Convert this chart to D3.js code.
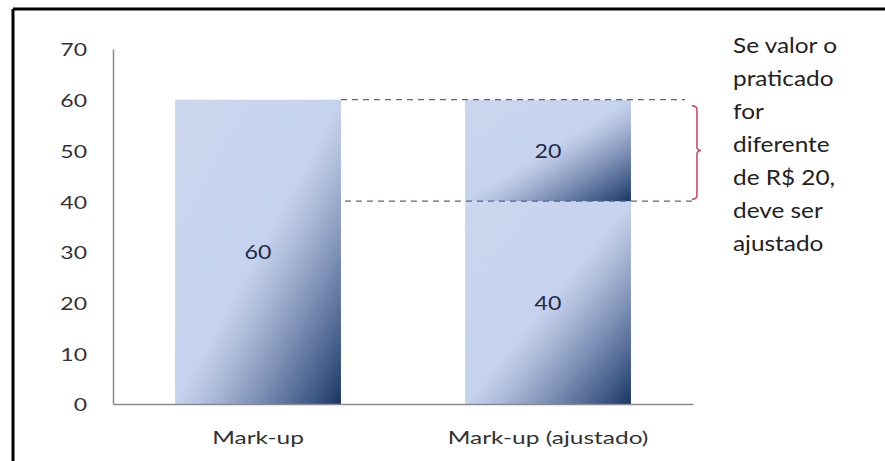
<!DOCTYPE html>
<html>
<head>
<meta charset="utf-8">
<script src="https://cdn.jsdelivr.net/npm/d3@7"></script>
<style>
  html, body { margin: 0; padding: 0; background: #fff; }
  svg { display: block; }
  text { font-family: Lato, "Open Sans", sans-serif; }
</style>
</head>
<body>
<svg id="chart" width="885" height="461"></svg>
<script>
// ---- data ----
const categories = ["Mark-up", "Mark-up (ajustado)"];
const baseValues = [60, 40];
const topValues = [0, 20];
const yTicks = [0, 10, 20, 30, 40, 50, 60, 70];
const noteLines = ["Se valor o", "praticado", "for", "diferente", "de R$ 20,", "deve ser", "ajustado"];

const W = 885, H = 461;
const svg = d3.select("#chart");

// frame (only top and left edges visible)
svg.append("line").attr("x1", 13).attr("y1", 9).attr("x2", W).attr("y2", 9)
  .attr("stroke", "#000").attr("stroke-width", 3);
svg.append("line").attr("x1", 13).attr("y1", 9).attr("x2", 13).attr("y2", H)
  .attr("stroke", "#000").attr("stroke-width", 3);

const x = d3.scaleBand().domain(categories).range([113, 693]).paddingInner(0.428).paddingOuter(0.214);
const y = d3.scaleLinear().domain([0, 70]).range([404, 49]);

// gradient
const defs = svg.append("defs");
const grad = defs.append("linearGradient").attr("id", "barGrad")
  .attr("x1", 0).attr("y1", 0).attr("x2", 1).attr("y2", 1);
[[0, "#ccd7ef"], [0.5, "#c6d3ee"], [0.6, "#acbbd9"], [0.75, "#7a8db3"], [0.9, "#425c88"], [1, "#1c3560"]]
  .forEach(([o, c]) => grad.append("stop").attr("offset", o).attr("stop-color", c));

// horizontally widened text helper (reference font is wider than Lato)
function wideText(sel, sx, px, py) {
  sel.attr("x", 0).attr("y", 0)
    .attr("transform", (d, i) => `translate(${px(d, i)},${py(d, i)}) scale(${sx},1)`);
}

// stacked data
const stackData = categories.map((c, i) => ({ cat: c, base: baseValues[i], top: topValues[i] }));
const series = d3.stack().keys(["base", "top"])(stackData);

const g = svg.append("g");
series.forEach(s => {
  const segs = s.filter(d => d[1] - d[0] > 0);
  g.selectAll(null).data(segs).enter().append("rect")
    .attr("x", d => x(d.data.cat))
    .attr("width", x.bandwidth())
    .attr("y", d => y(d[1]))
    .attr("height", d => y(d[0]) - y(d[1]))
    .attr("fill", "url(#barGrad)");
  g.selectAll(null).data(segs).enter().append("text")
    .attr("text-anchor", "middle").attr("dominant-baseline", "central")
    .attr("font-size", 19).attr("fill", "#1e2a44")
    .text(d => d[1] - d[0])
    .call(wideText, 1.22, d => x(d.data.cat) + x.bandwidth() / 2, d => (y(d[0]) + y(d[1])) / 2);
});

// axes
const yAxis = d3.axisLeft(y).tickValues(yTicks).tickSize(0).tickPadding(26);
const ya = svg.append("g").attr("transform", "translate(113,0)").call(yAxis);
ya.select(".domain").attr("stroke", "#8a8a8a").attr("stroke-width", 1.5);
ya.selectAll(".tick text").attr("font-size", 18).attr("fill", "#333").attr("font-family", "Lato, sans-serif")
  .attr("dy", null).attr("dominant-baseline", "central")
  .call(wideText, 1.28, () => -26, () => 0);

const xAxis = d3.axisBottom(x).tickSize(0).tickPadding(24);
const xa = svg.append("g").attr("transform", "translate(0,404)").call(xAxis);
xa.select(".domain").attr("stroke", "#8a8a8a").attr("stroke-width", 1.5);
xa.selectAll(".tick text").attr("font-size", 18).attr("fill", "#333").attr("font-family", "Lato, sans-serif")
  .attr("dy", null).attr("dominant-baseline", "central")
  .call(wideText, 1.36, () => 0, () => 33);

// dashed reference lines
const total = baseValues[1] + topValues[1];
const bar1Right = x(categories[0]) + x.bandwidth();
const bar2Right = x(categories[1]) + x.bandwidth();
svg.append("line").attr("x1", bar1Right).attr("x2", bar2Right + 54)
  .attr("y1", y(total)).attr("y2", y(total))
  .attr("stroke", "#566582").attr("stroke-width", 1.3).attr("stroke-dasharray", "6,5");
svg.append("line").attr("x1", bar1Right + 4).attr("x2", bar2Right + 63)
  .attr("y1", y(baseValues[1])).attr("y2", y(baseValues[1]))
  .attr("stroke", "#566582").attr("stroke-width", 1.3).attr("stroke-dasharray", "6,5");

// bracket
const bx = bar2Right + 66;
const yt = y(total) + 6, yb = y(baseValues[1]) - 2, ym = y((total + baseValues[1]) / 2);
svg.append("path")
  .attr("d", `M${bx - 5},${yt} Q${bx},${yt} ${bx},${yt + 4} L${bx},${ym - 4} Q${bx},${ym} ${bx + 4},${ym} Q${bx},${ym} ${bx},${ym + 4} L${bx},${yb - 4} Q${bx},${yb} ${bx - 5},${yb}`)
  .attr("fill", "none").attr("stroke", "#cf3f5e").attr("stroke-width", 1.5);

// note text
svg.append("g").selectAll("text").data(noteLines).enter().append("text")
  .attr("dominant-baseline", "central")
  .attr("font-size", 21).attr("fill", "#222")
  .text(d => d)
  .call(wideText, 1.16, () => 733, (d, i) => 45 + i * 33);
</script>
</body>
</html>
